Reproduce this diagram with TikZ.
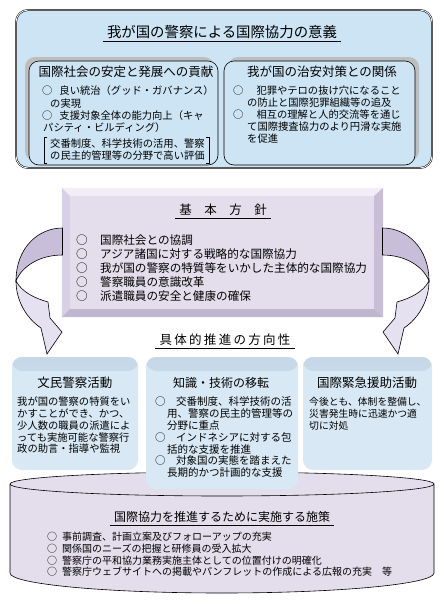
\documentclass[tikz,border=0pt]{standalone}
\usepackage{fontspec}
\setmainfont{Noto Sans CJK JP}
\usetikzlibrary{calc, shadows}
\definecolor{sigblue}{RGB}{204,228,244}
\definecolor{shadowgray}{RGB}{190,190,190}
\definecolor{policyface}{RGB}{228,222,236}
\definecolor{beveltop}{RGB}{242,238,247}
\definecolor{bevelleft}{RGB}{216,208,230}
\definecolor{bevelright}{RGB}{200,190,216}
\definecolor{bevelbottom}{RGB}{192,182,208}
\definecolor{arrowdark}{RGB}{200,190,218}
\definecolor{arrowlight}{RGB}{230,225,240}
\definecolor{directblue}{RGB}{216,232,244}
\definecolor{directtop}{RGB}{198,216,232}
\definecolor{measurefill}{RGB}{228,222,236}
\newcommand{\maru}[1]{○\hspace{#1}}
\newcommand{\spc}{\hspace{2.3pt}}
\tikzset{
  box/.style={inner sep=0pt, rounded corners=10pt},
  sigbox/.style={box, draw, fill=sigblue, rounded corners=12pt, double=white,
                 double distance=0.8pt, line width=0.5pt,
                 minimum width=416pt, minimum height=158pt},
  innerbox/.style={box, draw, line width=0.6pt, fill=sigblue,
                   minimum width=189pt, minimum height=104pt},
  policybox/.style={inner sep=0pt, fill=policyface,
                    minimum width=321pt, minimum height=129pt},
  directbox/.style={box, fill=directblue,
                    path picture={\shade[top color=directtop, bottom color=directblue]
                      (path picture bounding box.north west) rectangle
                      ([yshift=-14pt]path picture bounding box.north east);}},
  txt/.style={inner sep=0pt, align=left, anchor=north west,
              execute at begin node={\rule[-.12em]{0pt}{1em}}},
  heading/.style={inner xsep=4pt, inner ysep=2pt,
                  execute at begin node={\rule[-.12em]{0pt}{1em}}},
  boxhead/.style={inner sep=0pt, execute at begin node={\rule[-.12em]{0pt}{1em}}},
  uline/.style={line width=0.6pt},
  arrowline/.style={line width=0.6pt, draw=black},
}

\begin{document}
\begin{tikzpicture}[x=1pt, y=-1pt]
  \useasboundingbox (0,0) rectangle (444,606);

  % significance
  \node[sigbox] (signif) at (224,89) {};
  \node[heading, font=\fontsize{14.4}{16}\selectfont] (sigtitle) at (222,32) {我が国の警察による国際協力の意義};
  \draw[uline] (sigtitle.south west) -- (sigtitle.south east);

  \node[innerbox, general shadow={fill=shadowgray, shadow xshift=-4pt, shadow yshift=4pt}] (contrib) at (123.5,113) {};
  \node[innerbox, minimum width=191pt, general shadow={fill=shadowgray, shadow xshift=4pt, shadow yshift=4pt}] (security) at (319.5,113) {};

  \node[boxhead, font=\fontsize{12.5}{14}\selectfont] (contribhead) at (126,72) {国際社会の安定と発展への貢献};
  \node[boxhead, font=\fontsize{12.5}{14}\selectfont] (securityhead) at (322,72) {我が国の治安対策との関係};

  \node[txt, font=\fontsize{10.3}{12.2}\selectfont] (contribitems) at (42,85.85)
    {\maru{7pt}良い統治（グッド・ガバナンス）\\
     \hspace{8pt}の実現\\
     \maru{7pt}支援対象全体の能力向上（キャ\\
     \hspace{1pt}パシティ・ビルディング）};
  \node[txt, font=\fontsize{10.3}{12}\selectfont] (hyoka) at (50,138.85)
    {交番制度、科学技術の活用、警察\\の民主的管理等の分野で高い評価};
  \draw[thin] ($(hyoka.north west)+(-3,-2)$) -- ++(-3,0) |- ($(hyoka.south west)+(-3,2)$);
  \draw[thin] ($(hyoka.north east)+(1.5,-2)$) -- ++(3,0) |- ($(hyoka.south east)+(1.5,2)$);

  \node[txt, font=\fontsize{10.3}{12}\selectfont] (securityitems) at (233,85.85)
    {\maru{13pt}犯罪やテロの抜け穴になること\\
     \hspace{14pt}の防止と国際犯罪組織等の追及\\
     \maru{13pt}相互の理解と人的交流等を通じ\\
     \hspace{14pt}て国際捜査協力のより円滑な実施\\
     \hspace{14pt}を促進};

  % basic policy
  \node[policybox] (policy) at (222.5,252.5) {};
  \fill[beveltop] (policy.north west) -- (policy.north east) -- ($(policy.north east)+(-9,8)$) -- ($(policy.north west)+(8,8)$) -- cycle;
  \fill[bevelleft] (policy.north west) -- ($(policy.north west)+(8,8)$) -- ($(policy.south west)+(8,-8)$) -- (policy.south west) -- cycle;
  \fill[bevelright] (policy.north east) -- ($(policy.north east)+(-9,8)$) -- ($(policy.south east)+(-9,-8)$) -- (policy.south east) -- cycle;
  \fill[bevelbottom] (policy.south west) -- ($(policy.south west)+(8,-8)$) -- ($(policy.south east)+(-9,-8)$) -- (policy.south east) -- cycle;

  \node[heading, font=\fontsize{12.5}{14}\selectfont] (policytitle) at (223,210) {基　本　方　針};
  \draw[uline] (policytitle.south west) -- (policytitle.south east);
  \node[txt, font=\fontsize{11.6}{14.2}\selectfont] (policyitems) at (76,234.2)
    {\maru{12.4pt}国際社会との協調\\
     \maru{12.4pt}アジア諸国に対する戦略的な国際協力\\
     \maru{12.4pt}我が国の警察の特質等をいかした主体的な国際協力\\
     \maru{12.4pt}警察職員の意識改革\\
     \maru{12.4pt}派遣職員の安全と健康の確保};

  % bent arrows
  \foreach \s/\dx in {1/0,-1/445}{
    \begin{scope}[xshift=\dx pt, xscale=\s]
      \filldraw[arrowline, fill=arrowdark] (62.5,228) .. controls (38,228) and (16,248) .. (16,281)
        .. controls (22,266) and (40,255) .. (62.5,255) -- cycle;
      \filldraw[arrowline, fill=arrowlight] (16,281) .. controls (16,300) and (26,318) .. (41,328)
        -- (47,354) -- (62,332) -- (50,318) -- (48,302)
        .. controls (34,298) and (22,292) .. (16,281) -- cycle;
    \end{scope}
  }

  \node[heading, font=\fontsize{12.5}{14}\selectfont] (dirtitle) at (225,340)
    {具\spc 体\spc 的\spc 推\spc 進\spc の\spc 方\spc 向\spc 性};
  \draw[uline] (dirtitle.south west) -- (dirtitle.south east);

  % measures
  \filldraw[line width=0.6pt, fill=measurefill] (10,484) -- (10,573)
    arc[start angle=180, end angle=0, x radius=212, y radius=20] -- (434,484)
    arc[start angle=0, end angle=-180, x radius=212, y radius=12] -- cycle;
  \draw[line width=0.6pt] (10,484) arc[start angle=180, end angle=0, x radius=212, y radius=12];

  % directions
  \node[directbox, minimum width=126pt, minimum height=113pt] (civil) at (75,413.5) {};
  \node[directbox, minimum width=152pt, minimum height=132pt] (transfer) at (222,423) {};
  \node[directbox, minimum width=129pt, minimum height=113pt] (relief) at (367.5,413.5) {};

  \node[boxhead, font=\fontsize{12.5}{14}\selectfont] (civilhead) at (75,383) {文民警察活動};
  \node[boxhead, font=\fontsize{12}{14}\selectfont] (transferhead) at (221,383) {知識・技術の移転};
  \node[boxhead, font=\fontsize{12.5}{14}\selectfont] (reliefhead) at (367,383) {国際緊急援助活動};

  \node[txt, font=\fontsize{10.3}{11.8}\selectfont] (civilbody) at (17,396.85)
    {我が国の警察の特質をい\\かすことができ、かつ、\\少人数の職員の派遣によ\\っても実施可能な警察行\\政の助言・指導や監視};
  \node[txt, font=\fontsize{10.5}{11.8}\selectfont] (transferbody) at (155,396.75)
    {\maru{10.5pt}交番制度、科学技術の活\\
     \hspace{12pt}用、警察の民主的管理等の\\
     \hspace{12pt}分野に重点\\
     \maru{10.5pt}インドネシアに対する包\\
     \hspace{12pt}括的な支援を推進\\
     \maru{10.5pt}対象国の実態を踏まえた\\
     \hspace{12pt}長期的かつ計画的な支援};
  \node[txt, font=\fontsize{9.8}{11.8}\selectfont] (reliefbody) at (309,397.1)
    {今後とも、体制を整備し、\\災害発生時に迅速かつ適\\切に対処};

  \node[heading, font=\fontsize{12}{14}\selectfont] (measuretitle) at (222,517) {国際協力を推進するために実施する施策};
  \draw[uline] (measuretitle.south west) -- (measuretitle.south east);
  \node[txt, font=\fontsize{10}{11.7}\selectfont] (measureitems) at (47,532)
    {\maru{5pt}事前調査、計画立案及びフォローアップの充実\\
     \maru{5pt}関係国のニーズの把握と研修員の受入拡大\\
     \maru{5pt}警察庁の平和協力業務実施主体としての位置付けの明確化\\
     \maru{5pt}警察庁ウェブサイトへの掲載やパンフレットの作成による広報の充実　等};
\end{tikzpicture}
\end{document}
